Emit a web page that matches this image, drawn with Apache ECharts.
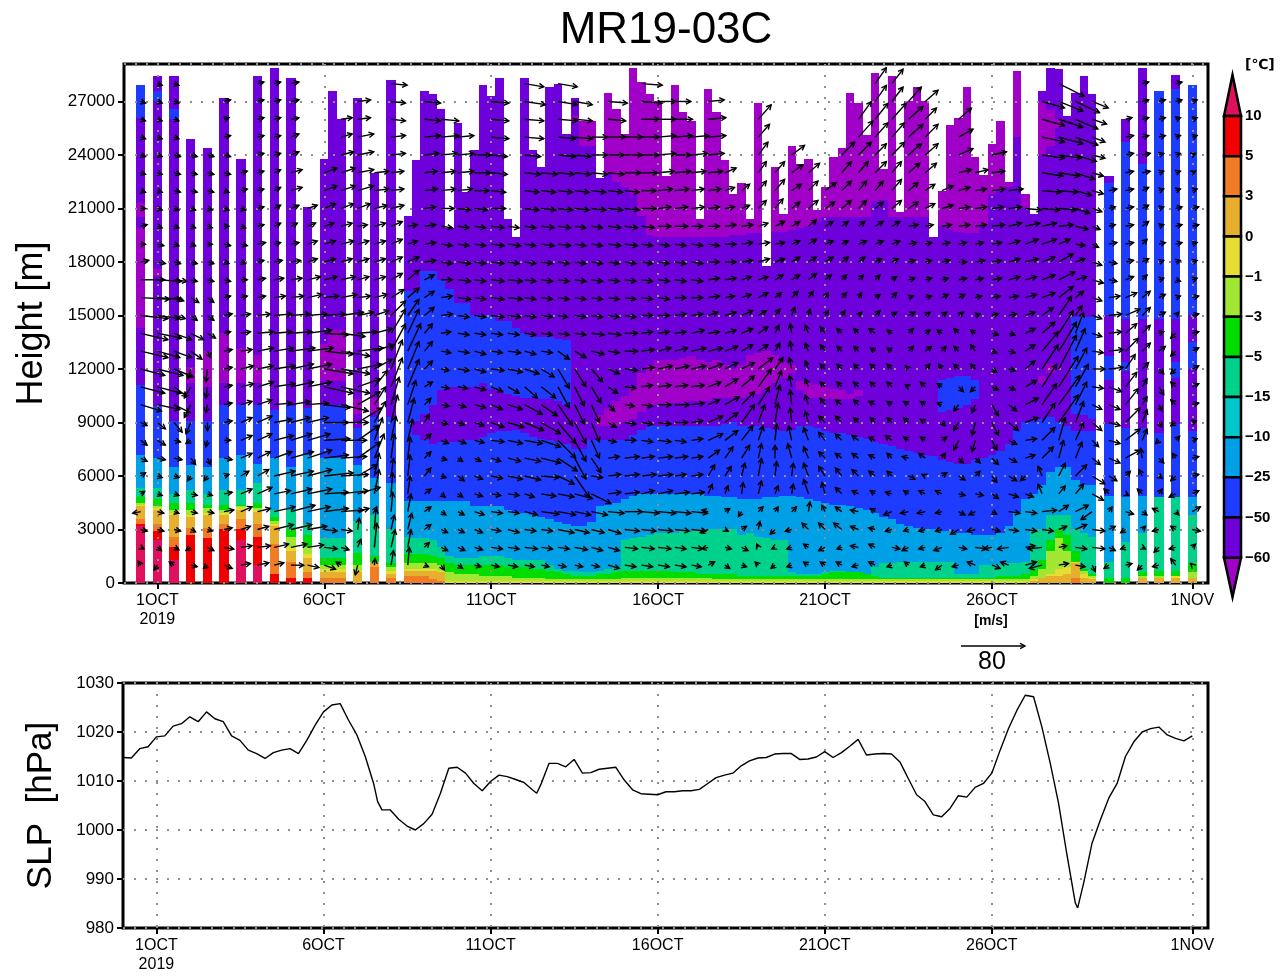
<!DOCTYPE html>
<html>
<head>
<meta charset="utf-8">
<style>html,body{margin:0;background:#fff}#chart{width:1288px;height:978px}</style>
<script src="https://cdn.jsdelivr.net/npm/echarts@6/dist/echarts.min.js"></script>
</head>
<body>
<div id="chart"></div>
<script>
const none = n => new Array(n).fill(0)

// sounding times, day of October (1NOV = 32)
const columnDays = [0.5,1,1.5,2,2.5,3,3.5,4,4.5,5,5.5,6,6.25,6.5,7,7.5,8,
  8.5,8.75,9,9.25,9.5,9.75,10,10.25,10.5,10.75,11,11.25,11.5,11.75,12,12.25,12.5,12.75,13,13.25,13.5,13.75,14,14.25,14.5,14.75,15,15.25,15.5,15.75,16,16.25,16.5,16.75,
  17,17.25,17.5,17.75,18,18.25,18.5,18.75,19,19.25,19.5,19.75,20,20.25,20.5,20.75,21,21.25,21.5,21.75,22,22.25,22.5,22.75,23,23.25,23.5,23.75,24,24.25,24.5,24.75,25,25.25,25.5,25.75,26,26.25,26.5,26.75,27,27.25,27.5,27.75,28,28.25,28.5,28.75,29,
  29.5,30,30.5,31,31.5,32]

// top of the sounding, then top of each colour band going up, all in 100 m. 0 = band absent
const colTop = [279,284,284,249,244,272,238,284,289,283,211,238,276,260,272,230,282,
  206,237,276,274,266,199,258,219,243,279,273,283,204,194,283,243,233,278,280,252,272,259,259,227,275,266,252,289,281,274,270,228,279,264,259,204,277,264,237,218,
  224,204,269,178,233,207,245,235,238,209,222,239,244,275,269,251,286,232,284,208,270,278,270,194,220,257,261,278,239,229,246,259,225,287,218,207,276,289,288,262,275,284,274,
  228,260,289,276,285,279]
const crimsonTop = [32,24,13,0,0,0,24,10]
const redTop = [33,29,20,27,25,30,30,26,5,3,3]
const orangeTop = [36,33,26,31,31,33,36,33,22,12,6,3,3,3,0,9,3, 4,4,4,2,1,...none(75),3,0,0]
const goldTop = [43,41,38,37,38,38,41,40,32,18,14,6,6,6,6,11,5, 7,7,7,7,6,...none(70),1,3,4,4,5,11,3,2, 0,0,3,3,3,3]
const yellowTop = [44,42,39,38,39,39,42,41,33,20,16,8,8,8,7,11,7, 8,8,8,8,7,...new Array(70).fill(1),2,3,5,8,9,12,5,3, 0,0,3,3,4,3]
const limeTop = [45,43,41,41,42,41,43,42,35,26,20,10,10,10,10,12,9,
  11,11,11,11,10,6,5,5,5,4,4,4,4,3,3,3,3,2,2,2,2,2,2,2,2,2,3, 3,3,3,3,3,3,3,3,3,3,2,2,2,
  2,2,2,2,2,2,2,2,2,2,2,2,2,2,2,2,2,2,2,2,2,2,2,2,2,2,2,2,2,2,2,2,2,2,2, 4,8,18,25,18,12,7,4, 0,0,4,4,4,6]
const greenTop = [48,47,45,45,44,44,44,45,37,30,27,14,14,14,17,15,11,
  16,16,16,15,14,11,10,10,10,10,10,10,9,9,9,8,8,7,6,5,4,4,4,5,5,6,7, 7,7,7,7,7,6,6,6,5,5,5,5,5,
  4,4,4,4,4,4,4,4,4,4,5,6,6,6,6,5,4,3,3,3,3,3,3,3,3,3,3,3,3,3,3,4,4,4,5, 8,13,24,30,27,18,8,5, 3,3,6,7,7,11]
const seaTop = [53,53,50,52,50,52,52,56,41,41,33,25,25,25,35,38,30,
  26,25,25,24,20,15,14,14,14,15,15,15,14,13,13,13,13,10,8,7,7,6,6,7,8,9,24, 25,26,27,28,28,28,29,29,29,30,30,30,30,
  27,28,26,25,24,24,6,5,5,5,6,7,7,6,6,5,9,11,11,12,12,12,12,12,12,12,5,5,5,10,10,10,11,11,12, 29,30,38,38,38,30,28,26, 12,23,28,48,48,38]
const skyTop = [72,70,65,66,65,70,72,67,70,65,72,70,70,70,66,59,56,
  46,46,46,46,46,46,46,46,43,43,43,43,41,40,39,38,37,36,34,33,32,32,34,43,44,45,47, 49,50,50,50,50,50,50,50,50,49,49,48,48,
  47,47,47,48,48,49,49,48,47,46,45,44,44,43,42,41,39,37,36,33,32,31,30,30,29,29,28,28,27,27,27,28,32,40,47,50,55,62,65,65,58,55,55, 49,48,49,0,0,48]
const blue1Top = [111,99,91,91,91,100,100,100,97,99,98,100,100,100,87,93,93,
  164,83,80,78,79,79,79,80,80,82,84,85,85,86,84,82,81,80,79,78,75,75,80,80,80,80,80, 83,86,88,88,88,88,88,88,88,88,88,89,90,
  88,88,88,87,86,85,86,88,88,87,85,84,84,83,82,81,79,78,77,75,74,73,72,71,69,68,67,67,69,70,72,74,78,86,90,91,92,93,90,88,85,85,85, 89,87,87,84,89,85]
const violet1Top = [143,172,0,112,110,112,112,112,0,0,0,113,113,113,95,96,0,
  0,91,95,100,108,110,110,110,110,112,109,108,106,105,104,104,103,103,102,100,...none(44),96,97,98,100,103,...none(11),95,94,92, 114,119,148,148,115,120]
const blue2Top = [...none(17),
  0,164,175,175,170,165,157,157,150,150,150,147,147,143,140,138,138,138,137,136,...none(44),114,115,116,116,114,...none(11),149,149,149, 127,124,0,0,124,135]
const violet2Top = [...none(17),...none(23),
  88,88,88,90,92,96,100,100,100,101,101,102,102,102,104,104,104,104,105,106,108,112,115,118,108,104,104,103,103,103,103,105,...none(21),112,118]
const magenta1Top = [199,176,0,121,130,140,132,128,0,0,0,134,142,142,103,104,0,...none(23),
  94,98,102,105,110,118,122,125,125,125,126,127,125,124,125,122,120,122,128,129,130,128,124,122,113,112,111,110,109,108,106,108,...none(21),116,123]
const violet3Top = [205,...none(16),...none(19),
  259,258,245,245,0,230,225,222,218,206,195,194,194,194,194,194,194,194,194,194,195,195,196,196,0,197,197,198,199,200,203,205,205,205,205,205,205,214,215,205,205,205,205,205,0,200,198,197,196,196,200,218,220,222,250,210,0,240,245,255]
const magenta2Top = [213,...none(16),...none(19),
  264,262,259,259,0,290,290,290,290,290,290,290,290,290,290,290,290,290,290,290,290,290,290,290,0,290,290,290,290,290,290,290,290,290,290,290,290,290,290,290,290,290,290,290,0,290,290,290,290,290,290,290,290,290,290,290,0,270,265,260]
const violet4Top = [261,270,260,...none(14),...none(83),150,148,148,148,148,150]
const blue3Top = [290,276,266,...none(14),...none(83),224,247,235,290,277,290]

const bandTops = [crimsonTop,redTop,orangeTop,goldTop,yellowTop,limeTop,greenTop,seaTop,skyTop,blue1Top,violet1Top,blue2Top,violet2Top,magenta1Top,violet3Top,magenta2Top,violet4Top,blue3Top]
const bandColors = ['#e0105f','#f00000','#f07d26','#e6af2d','#e6dc32','#a0e632','#00dc00','#00d28c','#00a0e6','#1e3cff','#6e00dc','#1e3cff','#6e00dc','#a000c8','#6e00dc','#a000c8','#6e00dc','#1e3cff']
const capColor = '#6e00dc'

// wind, one row per km from 1 km up, m/s, one value per half day
const windDays = [0.5,1,1.5,2,2.5,3,3.5,4,4.5,5,5.5,6,6.5,7,7.5,8,8.5,9,9.5,10,10.5,11,11.5,12,12.5,13,13.5,14,14.5,15,15.5,16,16.5,17,17.5,18,18.5,19,19.5,20,20.5,21,21.5,22,22.5,23,23.5,24,24.5,25,25.5,26,26.5,27,27.5,28,28.5,29,29.5,30,30.5,31,31.5,32]
const windU = [
[-3,-4,-6,8,-5,10,12,14,12,16,14,14,-6,-3,1,3,2,5,4,6,8,10,12,12,10,10,10,10,14,14,14,14,14,12,8,6,6,-4,-5,-6,-6,-6,-7,-8,-8,-6,-5,-6,-8,-8,-10,10,-10,14,-16,12,12,4,-6,8,-6,-8,-6,-2],
[4,5,6,-6,8,12,14,16,18,20,20,16,10,4,3,5,4,6,8,9,10,14,14,16,14,14,16,14,14,16,16,16,14,14,-8,8,8,-2,-4,-6,-6,-8,-6,-10,-8,10,-8,-8,-10,10,14,-10,-14,12,-18,10,14,16,8,-6,4,-6,-8,4],
[8,8,8,6,6,10,12,14,24,26,24,16,14,2,2,4,5,8,8,8,10,12,14,14,14,20,18,16,16,18,18,18,18,18,-10,4,6,2,-6,-8,-8,-8,-10,-10,-8,-8,-6,-8,-8,-10,-10,10,12,14,14,10,14,16,8,-6,4,-8,-6,10],
[-10,8,6,8,8,12,14,16,26,30,28,30,28,14,3,2,4,8,6,8,12,14,14,16,22,22,20,20,20,22,22,22,20,20,-8,6,-4,6,4,6,2,-4,-8,-10,-6,-10,-10,-10,-8,8,-8,6,14,14,18,12,16,-14,4,10,6,-8,4,10],
[5,6,6,8,6,10,14,18,20,26,30,30,34,28,6,2,3,8,5,6,10,12,14,12,18,20,22,24,16,18,16,18,18,16,5,4,2,4,4,2,-6,-4,-8,-8,-6,-8,-6,-8,-8,8,10,8,12,10,-5,8,10,14,-6,4,-6,4,-8,8],
[6,6,6,-4,-4,6,10,14,26,28,30,36,34,24,6,3,3,8,6,8,10,14,18,20,22,20,18,14,16,18,18,18,14,14,8,8,4,4,2,2,-6,-8,-8,-8,-8,-6,8,-4,6,8,6,6,10,-6,-5,8,14,16,10,6,-4,4,-6,8],
[8,10,10,6,4,10,14,16,22,28,30,30,32,28,12,4,3,8,7,6,8,12,16,20,24,24,14,12,14,18,16,18,16,14,14,10,10,4,0,-5,-6,-8,-8,-8,-8,-6,-8,-8,4,6,6,8,10,12,14,6,8,10,14,18,-2,6,-4,8],
[8,10,8,-6,-2,8,14,18,24,26,28,32,32,26,10,6,6,8,9,10,12,16,18,22,24,22,14,10,10,14,14,16,14,14,18,16,14,6,2,-4,-6,-8,-8,-8,-8,-8,-6,-6,6,-6,-4,6,10,14,16,8,10,8,14,18,6,-4,5,6],
[8,10,10,-6,0,10,14,18,22,24,26,30,34,30,14,8,8,6,8,8,12,16,20,24,24,22,14,10,10,14,14,16,16,14,18,16,16,8,4,-2,-4,-8,-8,-6,-6,-6,-6,-6,4,-6,-4,8,12,16,16,24,10,12,14,18,6,4,-6,5],
[26,28,20,-8,-2,10,14,18,22,24,26,32,34,28,14,10,10,8,10,10,14,14,18,22,20,18,12,10,8,12,14,16,18,16,14,18,16,14,6,-2,-4,-6,-8,-6,-8,-6,-6,-6,-6,-6,-4,8,10,16,18,26,14,12,14,16,6,4,-6,8],
[30,30,16,-8,-2,10,16,20,26,28,30,36,36,28,16,14,14,10,10,12,14,14,14,16,18,14,12,12,12,14,14,16,16,16,16,16,16,16,8,-3,-4,-6,-6,-6,-6,-6,-4,-6,-6,6,-6,8,8,14,18,24,16,14,16,14,6,6,-6,8],
[30,32,24,-4,-2,10,16,20,26,28,30,36,36,30,22,14,14,10,10,14,14,16,18,18,16,14,14,14,14,16,16,18,18,18,18,16,16,18,10,-3,-4,-6,-6,-6,-6,-6,-4,6,-4,-6,-6,6,8,12,20,22,14,16,18,12,8,6,-6,8],
[34,28,22,14,4,10,14,20,24,30,32,36,36,32,24,18,16,10,12,14,14,14,16,14,14,14,14,16,14,16,16,16,16,18,18,16,14,12,6,-2,-4,-6,-6,-6,-6,-6,6,8,5,-6,-6,6,8,12,20,22,12,14,18,16,10,8,-6,8],
[34,30,22,16,10,8,12,20,22,26,30,30,30,24,22,18,14,10,12,14,14,14,14,14,14,14,14,16,16,16,14,14,14,16,14,14,14,12,5,-2,-4,-6,-6,-6,-8,-6,6,6,-6,-6,-6,8,8,12,16,18,10,12,16,14,10,6,-6,8],
[34,28,14,8,8,10,12,16,22,24,24,26,28,20,18,18,14,12,14,14,14,16,16,14,14,12,14,14,14,14,14,14,14,14,12,14,14,10,6,4,2,4,4,4,6,6,8,6,6,6,6,8,10,12,14,16,8,12,16,18,10,8,4,8],
[36,30,12,10,8,8,8,10,14,16,18,18,20,16,16,16,14,12,14,16,14,16,18,14,14,14,14,14,14,14,14,14,14,14,14,12,12,12,8,8,6,4,6,4,6,6,6,8,8,8,8,10,12,14,16,18,10,12,14,14,10,8,6,8],
[30,30,16,8,8,8,8,10,12,14,16,16,18,14,14,14,14,12,14,16,14,16,18,14,14,14,14,14,14,14,14,14,14,14,14,14,12,12,10,10,10,8,6,6,6,6,8,8,8,10,10,12,14,14,16,20,14,14,10,10,6,6,6,6],
[10,10,8,8,8,6,6,8,10,12,12,14,14,14,14,14,14,14,14,16,14,16,14,14,14,14,14,14,14,14,14,14,14,14,14,14,14,14,12,10,10,10,8,8,8,8,8,8,10,10,12,12,14,16,16,18,12,12,10,10,8,6,6,6],
[6,8,6,6,6,8,8,10,8,10,12,14,16,14,14,14,12,14,14,14,14,16,16,14,16,16,14,14,16,16,14,14,14,14,14,14,14,14,12,10,10,10,8,10,10,10,10,8,10,10,10,12,14,16,18,14,12,8,10,10,6,8,8,6],
[8,6,6,6,6,6,6,8,8,8,10,12,14,12,14,14,12,14,14,14,14,16,14,14,16,16,14,14,16,16,16,16,16,14,14,14,14,12,12,10,10,10,8,8,10,10,12,10,12,14,14,16,16,18,18,18,16,10,8,10,8,6,8,8],
[6,6,6,6,6,6,6,8,8,10,12,14,16,16,16,16,16,14,16,16,16,18,18,18,18,18,18,18,18,18,18,16,16,16,14,12,10,10,10,10,12,12,12,10,10,12,12,12,14,14,14,14,16,20,22,22,18,12,8,10,8,6,8,8],
[6,6,8,8,8,6,8,8,8,14,14,16,18,20,18,16,16,16,18,18,18,18,18,18,18,18,18,18,18,18,18,18,18,16,16,12,10,10,12,12,12,14,12,10,10,12,12,12,14,14,14,16,18,20,24,24,20,14,10,10,8,6,6,6],
[6,6,8,8,8,8,8,8,8,14,16,16,18,20,18,16,18,16,18,20,20,20,20,20,20,20,20,20,20,20,20,20,20,18,18,14,10,10,12,14,14,14,12,12,14,12,14,14,14,16,16,16,18,20,26,26,24,14,12,10,10,6,6,4],
[6,6,8,8,8,8,8,8,8,10,12,14,16,20,20,18,18,18,20,20,20,20,20,20,20,22,20,20,20,22,22,22,20,20,20,18,12,12,14,16,16,14,16,16,14,16,16,16,18,18,18,18,18,24,28,28,26,16,12,10,10,6,6,4],
[6,6,6,6,6,8,8,8,8,10,12,12,14,20,22,18,18,20,22,20,22,22,22,24,22,22,22,20,22,22,22,22,22,22,22,20,14,14,14,18,18,16,16,18,16,16,18,16,16,18,20,18,20,26,28,30,28,16,14,10,8,8,6,6],
[6,6,6,6,6,6,8,8,8,10,10,14,14,16,20,18,18,20,22,20,22,22,24,24,22,24,22,22,22,22,22,22,22,22,22,18,16,16,14,16,18,18,16,16,16,18,18,14,14,16,16,16,18,26,28,30,28,18,14,8,8,8,6,6],
[6,6,6,6,6,8,8,8,8,10,14,14,16,16,20,18,18,20,22,22,22,22,24,26,24,24,22,24,24,26,26,22,20,20,20,18,20,16,14,16,18,18,18,16,14,14,16,16,16,18,20,20,22,26,28,30,30,20,14,10,8,8,8,6],
[6,6,6,6,6,8,8,8,8,10,10,12,14,16,18,20,20,22,22,22,22,22,24,24,24,24,24,26,26,26,26,26,24,24,24,20,18,16,16,16,16,16,18,16,14,14,16,16,16,18,20,20,22,26,28,32,30,20,14,10,8,8,8,6]
]
const windV = [
[5,-6,4,-2,-4,-4,2,3,3,0,-3,-5,4,-12,8,18,22,-2,-6,-4,-2,-2,-2,-2,-2,-2,-2,-2,-4,-2,-2,-2,-2,-2,4,-4,-2,4,-4,-2,4,4,4,-2,4,-2,4,-2,-6,-2,4,-4,4,4,-4,2,-2,-8,-4,2,-6,-2,8,2],
[-2,-4,-3,-4,-4,-2,2,2,4,4,3,-2,-3,10,30,22,22,6,-4,-4,-3,-2,-2,-2,-2,-2,-3,-4,-4,-2,-2,-2,-2,-2,-2,-2,-4,4,-2,-2,4,-4,-2,2,4,-2,-4,-2,-4,-2,-2,-2,-2,2,-2,2,-2,-2,-4,-2,-2,-6,-2,4],
[-2,-2,-2,-3,-2,2,4,4,6,6,4,-2,-2,14,26,18,20,6,-4,-4,-4,-2,-4,-2,-2,-4,-4,-4,-5,-2,-2,-2,-2,-2,-4,-2,4,10,-6,-2,8,8,8,4,2,-2,-2,-2,-2,-6,-2,-2,-2,-2,-2,4,6,-2,4,-4,4,-2,4,-2],
[-2,-2,-2,-2,-2,2,6,4,6,8,6,4,2,4,6,24,22,6,-4,-4,-4,-2,-2,-4,-3,-4,-4,-4,-2,0,-2,-2,-2,-2,2,4,-6,6,6,6,12,8,6,2,4,-4,-2,-2,-2,-4,-4,-3,-2,-2,2,8,8,-10,6,-3,-4,4,-4,6],
[3,-2,-2,-2,-2,2,6,8,4,6,6,2,4,8,30,26,22,6,-4,-4,-3,-2,-2,-4,-3,-4,-6,-12,2,2,4,4,2,2,12,10,14,16,10,12,18,14,8,4,4,2,4,4,4,-2,-2,-6,-4,-4,12,10,12,-8,6,-2,6,6,-4,4],
[4,-2,-2,-6,-6,2,6,8,6,6,8,4,2,14,28,22,26,10,-2,-6,-4,-3,-4,-5,-2,-10,-26,-2,2,2,2,2,2,2,14,12,16,22,18,16,16,12,10,8,6,6,-4,2,4,-5,6,-8,-6,-6,12,16,14,-10,-6,6,8,-3,-6,2],
[-4,-2,-2,-8,-8,-2,6,8,8,8,10,4,2,20,30,30,26,8,-2,-4,-4,-4,-4,-4,-6,-16,-26,-18,2,2,2,2,2,2,10,14,16,18,16,18,14,8,6,6,4,6,2,6,6,-6,-6,-8,-5,4,14,22,20,-8,-6,10,12,-6,6,2],
[-6,-6,-2,-4,-8,0,6,8,6,8,8,2,0,18,28,30,26,8,-4,-4,-3,-2,-4,-4,-8,-22,-26,-22,-2,0,-2,-2,-2,2,8,12,18,18,20,18,16,10,8,6,4,6,4,4,4,-12,-14,-12,-5,2,16,28,22,-8,-4,14,14,-4,5,2],
[-4,-8,-12,-14,-10,2,6,8,4,6,6,0,0,18,26,34,30,10,-2,-3,-4,-6,-6,-10,-14,-26,-26,-24,-6,-2,-2,-2,0,2,8,12,22,22,24,18,14,8,8,6,6,6,6,4,-4,-10,-16,-16,-10,6,24,34,26,-10,-4,18,16,-6,-4,2],
[-8,-6,-10,-16,-10,2,4,6,2,4,2,-4,-8,16,22,34,30,8,-2,-3,-4,-6,-6,-12,-14,-26,-24,-22,-8,-2,-2,0,0,2,6,10,16,22,24,18,12,8,6,6,4,4,4,4,2,-8,-10,-14,-8,8,26,36,28,-6,-6,20,10,-8,6,2],
[-8,-8,-12,-14,-14,2,4,6,4,6,6,-8,-8,10,20,36,34,6,-2,-2,-4,-6,-8,-14,-14,-26,-24,-20,-8,-2,2,2,2,2,6,10,14,22,20,14,10,6,6,6,6,6,2,6,4,-6,-6,-4,-4,8,28,38,28,-2,-6,18,10,-10,6,4],
[-8,-8,-10,-12,-16,2,4,4,4,6,6,-6,-6,6,12,36,34,10,-2,-2,-4,-2,-4,-6,-10,-24,-22,-16,-6,-2,2,4,4,4,6,8,8,14,14,14,10,6,6,6,6,6,4,6,6,6,6,-4,-2,10,30,42,26,0,2,18,8,-6,-6,4],
[-8,-8,-8,-10,-8,2,2,4,4,4,4,-4,-6,4,8,34,34,12,-2,-2,-4,-2,-2,-4,-2,-10,-8,-4,-2,0,2,4,4,4,4,6,8,8,10,12,10,8,6,6,4,4,6,6,6,6,8,-2,-2,8,24,36,28,-2,2,16,10,6,-6,4],
[-8,-6,-8,-8,-6,2,2,2,2,2,4,-2,-4,2,6,30,30,12,2,-2,-2,-2,-2,-2,-2,-2,-2,-2,-2,0,2,2,2,4,2,4,6,8,10,12,10,8,6,6,6,4,6,4,4,6,4,-2,-2,6,14,28,26,-4,2,12,10,2,-6,2],
[-4,-4,-4,-6,-6,2,2,2,2,2,2,2,4,4,6,18,20,10,2,-2,-2,-2,-2,-2,-2,-2,-2,-2,-2,-2,0,0,2,2,4,4,6,6,8,10,8,6,6,4,6,4,4,4,4,4,2,2,2,4,10,24,12,-4,2,8,10,4,4,2],
[-2,-2,-4,-6,-6,2,2,2,2,2,4,2,4,2,4,10,12,8,2,-2,-2,-2,-2,-2,-2,-2,-2,-2,-2,-2,-2,-2,0,0,2,2,4,6,6,8,8,6,6,6,4,6,2,2,4,4,2,2,2,4,6,14,8,-4,2,6,8,4,2,2],
[0,-2,-2,-2,-2,-2,0,2,2,2,4,4,4,4,4,8,12,6,0,-2,-2,-2,-2,-2,-2,-2,-2,-2,-2,-2,-2,-2,-2,-2,2,2,4,4,6,6,8,6,6,6,6,4,2,2,2,2,2,2,4,4,6,10,4,-4,-2,4,6,2,-2,2],
[2,-2,-2,-2,-2,-2,-2,2,2,2,4,4,4,4,4,6,6,2,-2,-2,-2,-2,-2,-2,-2,-2,-2,-2,-2,-2,-2,-2,-2,-2,0,0,2,4,4,6,6,6,6,6,4,4,2,2,2,0,2,2,4,4,6,10,4,-4,-2,2,4,2,2,2],
[0,-2,-2,-2,0,-2,-2,2,2,2,4,4,4,4,4,6,4,2,-2,-2,-2,-2,-2,-2,-2,-2,-2,-2,-2,-2,-2,-2,-2,-2,-2,0,2,2,2,4,6,4,4,4,4,4,2,2,2,2,2,2,4,6,6,6,-2,-4,2,2,6,2,2,2],
[2,-2,-2,-2,-2,0,-2,2,4,4,4,4,4,2,4,6,2,2,-2,-2,-2,-2,-2,-2,-2,-2,-2,-2,-2,-2,-2,0,0,0,0,2,2,4,6,6,8,6,6,6,6,6,2,2,2,2,2,2,4,4,4,2,-4,-4,2,2,6,2,2,2],
[0,-2,-2,-2,-2,-2,-2,2,4,4,4,6,6,6,4,4,2,2,0,-2,-2,0,0,-2,-2,-2,-2,-2,-2,-2,0,2,2,2,2,2,4,10,12,8,10,8,10,10,8,10,8,6,4,2,2,2,2,-2,-2,-2,-6,-4,2,2,4,2,2,2],
[-2,-2,-2,-2,-2,-2,2,2,4,4,4,6,6,6,2,2,2,2,2,2,0,-2,-2,-2,-2,-2,-2,-2,-2,-2,0,2,2,2,2,4,8,12,14,8,12,10,12,12,12,14,10,8,6,4,2,2,2,-2,-2,-2,-6,-4,2,2,4,2,2,2],
[-2,-2,-2,-2,-2,-2,2,2,4,4,4,6,6,4,2,2,2,2,2,2,0,-2,-2,-2,-2,-2,-2,-2,-2,0,0,2,2,2,2,6,10,14,14,10,12,12,14,14,14,14,12,12,8,4,4,2,2,-2,-4,-4,-8,-4,2,2,2,2,2,2],
[-2,-2,-2,-2,-2,-2,2,2,2,4,4,4,4,4,2,2,2,2,2,2,0,-2,-2,-2,-2,-2,-2,0,0,0,0,2,0,2,2,8,14,16,16,12,14,16,16,16,14,16,14,14,12,8,6,4,2,-2,-4,-4,-8,-4,2,2,2,2,2,2],
[-2,-2,-2,-2,-2,2,2,2,2,4,4,4,4,4,2,2,2,2,2,2,-2,-2,-2,-2,-2,-2,-2,0,0,0,0,2,2,2,2,8,14,16,16,14,16,16,18,20,18,18,16,16,14,10,10,8,2,-2,-6,-8,-10,-6,2,2,2,2,2,2],
[-2,-2,-2,-2,-2,2,2,2,2,2,2,2,2,2,-2,-2,-2,-2,-2,-2,-2,-2,-2,-2,-2,-2,-2,-2,-2,0,0,0,0,2,2,6,14,18,16,12,16,18,20,22,20,20,16,14,12,14,12,10,2,-2,-8,-10,-12,-6,2,2,2,2,2,2],
[-2,-2,-2,-2,-2,2,2,2,2,2,2,2,2,2,-2,-2,-2,-2,-2,-2,-2,-2,-2,-4,-4,-4,-4,-2,-2,-2,-2,0,0,2,2,4,6,14,18,14,18,22,24,24,20,18,18,14,12,12,10,8,0,-2,-8,-12,-14,-8,2,2,2,2,2,2],
[-2,-2,-2,-2,-2,2,2,2,2,2,2,2,2,2,-2,-2,-2,-2,-2,-2,-2,-2,-2,-4,-4,-4,-4,-4,-4,-2,-2,0,0,2,2,4,6,10,18,20,20,22,24,24,20,18,14,12,8,8,8,6,-2,-6,-12,-16,-16,-8,2,2,2,2,2,2]
]
const windScale = 0.8 // px per m/s, reference arrow 80 m/s

// sea level pressure
const slpDays = [0.02,0.25,0.5,0.75,1,1.25,1.5,1.75,2,2.25,2.5,2.75,3,3.25,3.5,3.75,4,4.25,4.5,4.75,5,5.25,5.5,5.75,6,6.25,6.5,6.75,7,7.25,7.5,7.62,7.75,8,8.25,8.5,8.75,9,9.25,9.5,9.75,10,10.25,10.5,10.75,11,11.25,11.5,11.75,12,12.25,12.38,12.5,12.75,13,13.25,13.5,13.75,14,14.25,14.5,14.75,15,15.25,15.5,15.75,16,16.25,16.5,16.75,17,17.25,17.5,17.75,18,18.25,18.5,18.75,19,19.25,19.5,19.75,20,20.25,20.5,20.75,21,21.25,21.5,21.75,22,22.25,22.5,22.75,23,23.25,23.5,23.75,24,24.25,24.5,24.75,25,25.25,25.5,25.75,26,26.25,26.5,26.75,27,27.25,27.5,27.75,28,28.25,28.5,28.57,28.75,29,29.25,29.5,29.75,30,30.25,30.5,30.75,31,31.25,31.5,31.75,32]
const slpValues = [1014.8,1014.7,1016.6,1017,1019,1019.2,1021.2,1021.7,1023.1,1022.1,1024.1,1022.7,1022.1,1019.2,1018.3,1016.3,1015.6,1014.6,1015.8,1016.3,1016.6,1015.6,1018.3,1021.4,1024.1,1025.5,1025.8,1022.4,1019.4,1015,1009.5,1005.8,1004.1,1004.1,1002.2,1000.8,1000,1001.3,1003.2,1007.5,1012.6,1012.8,1011.6,1009.5,1008,1009.9,1011.2,1010.9,1010.3,1009.7,1008.2,1007.5,1009.2,1013.6,1013.6,1012.9,1014.4,1011.6,1011.7,1012.4,1012.6,1012.8,1010.2,1008.2,1007.4,1007.3,1007.2,1007.8,1007.8,1008,1008,1008.3,1009.5,1010.7,1011.2,1011.6,1013.1,1014.1,1014.7,1014.8,1015.5,1015.6,1015.6,1014.4,1014.5,1014.9,1016,1014.8,1015.8,1017.1,1018.5,1015.3,1015.5,1015.6,1015.5,1013.9,1010.5,1007.2,1005.8,1003.1,1002.7,1004.4,1007,1006.7,1008.7,1009.5,1011.6,1016.3,1020.7,1024.4,1027.5,1027.2,1021,1013.6,1005.4,994.9,985.1,984.1,989.2,997.3,1002.1,1006.5,1009.5,1015,1018,1020,1020.7,1021,1019.4,1018.7,1018.2,1019.2]

const dayTicks = [1,6,11,16,21,26,32]
const dayLabels = ['1OCT\n2019','6OCT','11OCT','16OCT','21OCT','26OCT','1NOV']

const scaleLabels = ['10','5','3','0','−1','−3','−5','−15','−10','−25','−50','−60']
const scaleColors = ['#f00000','#f07d26','#e6af2d','#e6dc32','#a0e632','#00dc00','#00d28c','#00c8c8','#00a0e6','#1e3cff','#6e00dc']
const scaleTopColor = '#e0105f'
const scaleBottomColor = '#a000c8'

// colour cells
const cellData = []
columnDays.forEach((d, i) => {
  const hw = d >= 8.5 && d <= 29 ? 0.125 : 0.14
  let run = 0
  bandTops.forEach((arr, b) => {
    const t = Math.min(arr[i] || 0, colTop[i])
    if (t > run) {
      cellData.push([d - hw, d + hw, run * 100, t * 100, bandColors[b]])
      run = t
    }
  })
  if (run < colTop[i]) cellData.push([d - hw, d + hw, run * 100, colTop[i] * 100, capColor])
})

// arrows, only where the sounding reaches that level
const arrowData = []
windDays.forEach((d, j) => {
  const top = colTop[columnDays.indexOf(d)]
  windU.forEach((row, k) => {
    if ((k + 1) * 10 <= top) arrowData.push([d, (k + 1) * 1000, row[j], windV[k][j]])
  })
})

function renderCell(params, api) {
  const a = api.coord([api.value(0), api.value(2)])
  const b = api.coord([api.value(1), api.value(3)])
  const x = Math.round(a[0]), y = Math.round(b[1])
  return {
    type: 'rect',
    shape: { x, y, width: Math.round(b[0]) - x, height: Math.round(a[1]) - y },
    style: { fill: cellData[params.dataIndex][4] }
  }
}

function arrowHead(x2, y2, ang) {
  const s = 5.5
  return [
    [x2 - s * Math.cos(ang - 0.5), y2 - s * Math.sin(ang - 0.5)],
    [x2, y2],
    [x2 - s * Math.cos(ang + 0.5), y2 - s * Math.sin(ang + 0.5)]
  ]
}

function renderArrow(params, api) {
  const p = api.coord([api.value(0), api.value(1)])
  const dx = api.value(2) * windScale
  const dy = -api.value(3) * windScale
  const x2 = p[0] + dx
  const y2 = p[1] + dy
  const lineStyle = { stroke: '#000', fill: 'none', lineWidth: 1.4 }
  return {
    type: 'group',
    children: [
      { type: 'line', shape: { x1: p[0], y1: p[1], x2, y2 }, style: lineStyle },
      { type: 'polyline', shape: { points: arrowHead(x2, y2, Math.atan2(dy, dx)) }, style: lineStyle }
    ]
  }
}

function pageGraphic() {
  const x0 = 1224, x1 = 1241, top = 116, step = 40.15
  const border = { stroke: '#000', lineWidth: 2.5 }
  const out = []
  out.push({ type: 'text', x: 666, y: 31, style: { text: 'MR19-03C', fill: '#000', font: '44px "Liberation Sans"', textAlign: 'center', textVerticalAlign: 'middle' } })
  out.push({ type: 'polygon', shape: { points: [[x0, top], [(x0 + x1) / 2, 75], [x1, top]] }, style: { fill: scaleTopColor, ...border } })
  out.push({ type: 'polygon', shape: { points: [[x0, top + step * 11], [(x0 + x1) / 2, 597], [x1, top + step * 11]] }, style: { fill: scaleBottomColor, ...border } })
  scaleColors.forEach((c, i) => {
    out.push({ type: 'rect', shape: { x: x0, y: top + i * step, width: x1 - x0, height: step }, style: { fill: c, ...border } })
  })
  scaleLabels.forEach((t, i) => {
    out.push({ type: 'text', x: 1245, y: top + i * step, style: { text: t, fill: '#000', font: 'bold 15px "Liberation Sans"', textVerticalAlign: 'middle' } })
  })
  out.push({ type: 'text', x: 1245, y: 65, style: { text: '[℃]', fill: '#000', font: 'bold 14px "DejaVu Sans"', textVerticalAlign: 'middle' } })
  // wind key
  const kx = 961, ky = 646, kx2 = kx + 80 * windScale
  out.push({ type: 'line', shape: { x1: kx, y1: ky, x2: kx2, y2: ky }, style: { stroke: '#000', lineWidth: 1.4 } })
  out.push({ type: 'polyline', shape: { points: arrowHead(kx2, ky, 0) }, style: { stroke: '#000', fill: 'none', lineWidth: 1.4 } })
  out.push({ type: 'text', x: 991, y: 621, style: { text: '[m/s]', fill: '#000', font: 'bold 14px "Liberation Sans"', textAlign: 'center', textVerticalAlign: 'middle' } })
  out.push({ type: 'text', x: 992, y: 662, style: { text: '80', fill: '#000', font: '25px "Liberation Sans"', textAlign: 'center', textVerticalAlign: 'middle' } })
  return out
}

const dots = { show: true, lineStyle: { color: '#8f8f8f', width: 2, type: [2, 9] } }
const tickLine = { show: true, length: 6, lineStyle: { color: '#000', width: 2 } }
const labelFont = { color: '#000', fontFamily: 'Liberation Sans', fontSize: 17 }

const xAxisBase = {
  type: 'value',
  min: 0,
  max: 32.47,
  z: 1,
  axisLine: { show: false },
  axisTick: { ...tickLine, customValues: dayTicks },
  splitLine: dots,
  axisLabel: {
    ...labelFont,
    fontSize: 16,
    lineHeight: 19,
    margin: 8,
    customValues: dayTicks,
    formatter: v => dayLabels[dayTicks.indexOf(v)]
  }
}

const chart = echarts.init(document.getElementById('chart'))
chart.setOption({
  animation: false,
  backgroundColor: '#fff',
  grid: [
    { left: 124, top: 64, width: 1084, height: 519, show: true, borderColor: '#000', borderWidth: 3, outerBoundsMode: 'none' },
    { left: 123, top: 683, width: 1085, height: 245, show: true, borderColor: '#000', borderWidth: 3, outerBoundsMode: 'none' }
  ],
  xAxis: [
    { ...xAxisBase, gridIndex: 0 },
    { ...xAxisBase, gridIndex: 1 }
  ],
  yAxis: [
    {
      type: 'value', gridIndex: 0, min: 0, max: 29100, interval: 3000, z: 1,
      name: 'Height [m]', nameLocation: 'middle', nameRotate: 90, nameGap: 74,
      nameTextStyle: { color: '#000', fontFamily: 'Liberation Sans', fontSize: 36 },
      axisLine: { show: false }, axisTick: tickLine, splitLine: dots,
      axisLabel: { ...labelFont, margin: 9, showMaxLabel: false, formatter: v => String(v) }
    },
    {
      type: 'value', gridIndex: 1, min: 980, max: 1030, interval: 10, z: 1,
      name: 'SLP  [hPa]', nameLocation: 'middle', nameRotate: 90, nameGap: 64,
      nameTextStyle: { color: '#000', fontFamily: 'Liberation Sans', fontSize: 35 },
      axisLine: { show: false }, axisTick: tickLine, splitLine: dots,
      axisLabel: { ...labelFont, margin: 9, formatter: v => String(v) }
    }
  ],
  series: [
    { type: 'custom', name: 'temperature', xAxisIndex: 0, yAxisIndex: 0, z: 0, renderItem: renderCell, encode: { x: [0, 1], y: [2, 3] }, data: cellData.map(c => c.slice(0, 4)), clip: true, silent: true },
    { type: 'custom', name: 'wind', xAxisIndex: 0, yAxisIndex: 0, z: 5, renderItem: renderArrow, encode: { x: 0, y: 1 }, data: arrowData, clip: false, silent: true },
    { type: 'line', name: 'SLP', xAxisIndex: 1, yAxisIndex: 1, z: 5, showSymbol: false, lineStyle: { color: '#000', width: 1.4 }, data: slpDays.map((d, i) => [d, slpValues[i]]), silent: true }
  ],
  graphic: pageGraphic()
})
</script>
</body>
</html>
